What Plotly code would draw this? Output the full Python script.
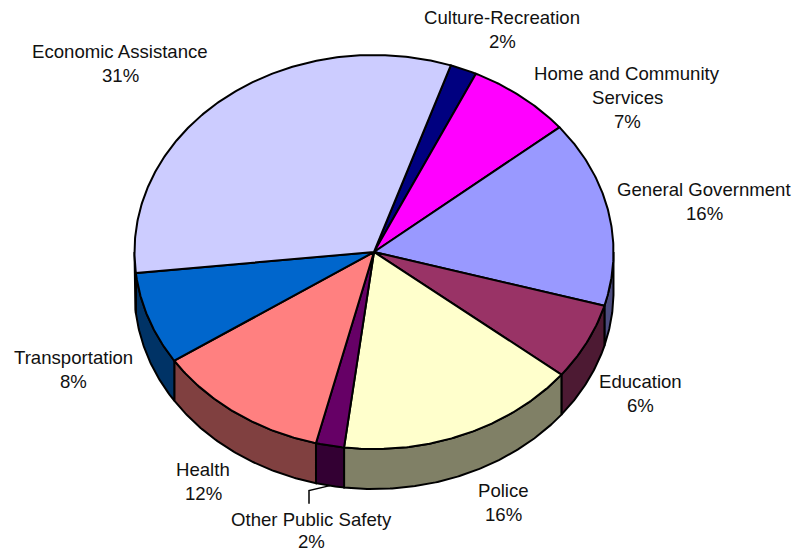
import math
import plotly.graph_objects as go

categories = ["Culture-Recreation", "Home and Community|Services", "General Government", "Education",
              "Police", "Other Public Safety", "Health", "Transportation", "Economic Assistance"]
values = [1.8, 7.1, 15.3, 6.3, 16.3, 1.9, 11.8, 7.6, 31.9]
pct_labels = ["2%", "7%", "16%", "6%", "16%", "2%", "12%", "8%", "31%"]
top_colors = ["#000080", "#FF00FF", "#9999FF", "#993366", "#FFFFCC", "#660066", "#FF8080", "#0066CC", "#CCCCFF"]
side_colors = ["#000040", "#800080", "#4D4D80", "#4D1A33", "#808066", "#330033", "#804040", "#003366", "#666680"]
label_x = [502, 627, 704, 640, 503, 311, 203, 73, 120]
label_y = [17, 73, 189, 381, 490, 519, 469, 357, 51]
line_steps = [24, 24, 24, 24, 24, 22, 24, 24, 24]

CX, CY, RX, RY, DEPTH = 374, 252, 239.5, 197, 40
START = 18.7
total = sum(values)


def pt(theta, drop=0.0):
    r = math.radians(theta)
    return CX + RX * math.sin(r), CY - RY * math.cos(r) + drop


def arc(a, b, drop=0.0):
    n = max(2, int(abs(b - a) * 2))
    return [pt(a + (b - a) * i / n, drop) for i in range(n + 1)]


fig = go.Figure()
bounds = []
a = START
for v in values:
    b = a + v / total * 360
    bounds.append((a, b))
    a = b

# side walls
for (a, b), col in zip(bounds, side_colors):
    for off in (0, 360):
        lo, hi = max(a - off, 90), min(b - off, 270)
        if lo < hi:
            poly = arc(lo, hi) + arc(hi, lo, DEPTH)
            poly.append(poly[0])
            fig.add_trace(go.Scatter(x=[p[0] for p in poly], y=[p[1] for p in poly], mode="lines",
                                     fill="toself", fillcolor=col, line=dict(color="black", width=2),
                                     hoverinfo="skip", showlegend=False))
# leaning top face
for (a, b), col, name in zip(bounds, top_colors, categories):
    poly = [(CX, CY)] + arc(a, b) + [(CX, CY)]
    fig.add_trace(go.Scatter(x=[p[0] for p in poly], y=[p[1] for p in poly], mode="lines",
                             fill="toself", fillcolor=col, line=dict(color="black", width=2),
                             name=name.replace("|", " "), hoverinfo="name", showlegend=False))

# leader line for Other Public Safety
mid = sum(bounds[5]) / 2
lead = pt(mid, DEPTH)
fig.add_trace(go.Scatter(x=[lead[0], label_x[5] - 2, label_x[5] - 2], y=[lead[1], lead[1] + 5, lead[1] + 18],
                         mode="lines", line=dict(color="black", width=1.5), hoverinfo="skip", showlegend=False))

for name, pct, x, y, step in zip(categories, pct_labels, label_x, label_y, line_steps):
    lines = name.split("|") + [pct]
    for i, t in enumerate(lines):
        fig.add_annotation(x=x, y=y + i * step, text=t, showarrow=False, xanchor="center", yanchor="middle",
                           font=dict(family="Liberation Sans", size=18.6, color="#111111"))

fig.update_xaxes(range=[0, 793], visible=False, fixedrange=True)
fig.update_yaxes(range=[552, 0], visible=False, fixedrange=True)
fig.update_layout(width=793, height=552, margin=dict(l=0, r=0, t=0, b=0), paper_bgcolor="white",
                  plot_bgcolor="white", showlegend=False)
fig.write_html("out.html", config={"displayModeBar": False},
               post_script="document.body.style.margin='0';document.body.style.overflow='hidden';")
